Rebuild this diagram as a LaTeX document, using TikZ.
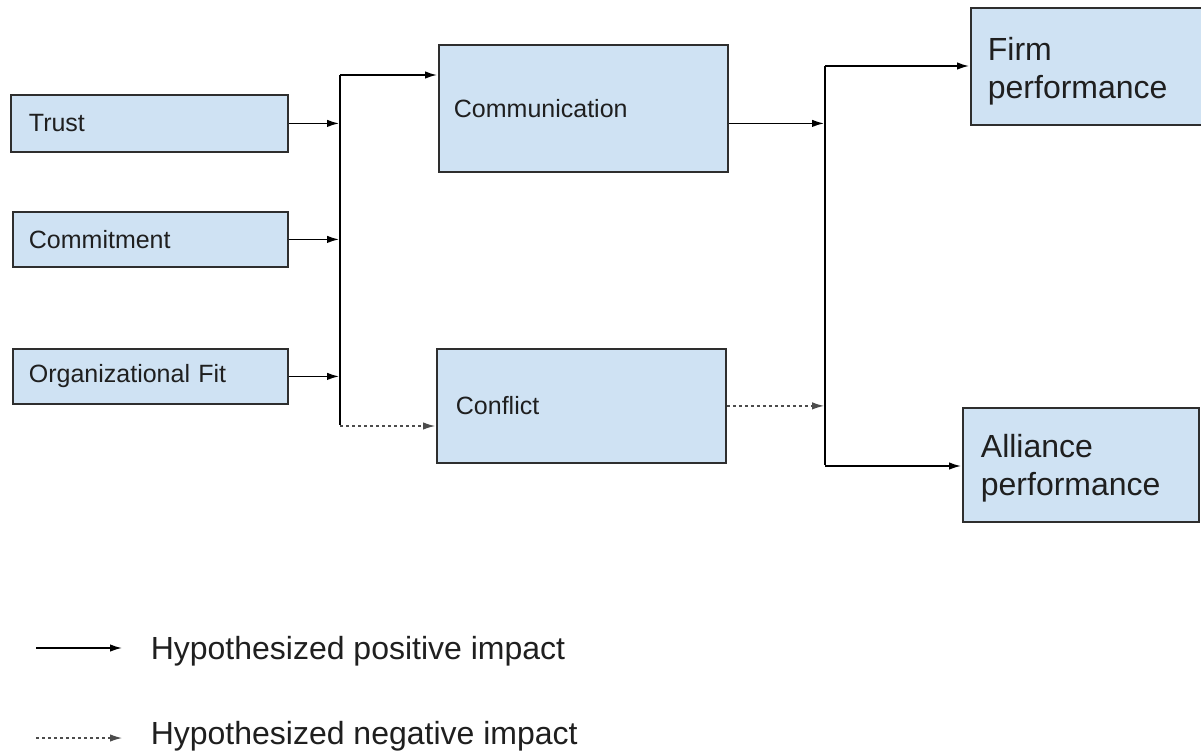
\documentclass[tikz,border=0pt]{standalone}
\usepackage{fontspec}
\setmainfont{Liberation Sans}
\usetikzlibrary{arrows.meta,positioning}
\definecolor{boxfill}{HTML}{CFE2F3}
\definecolor{boxline}{HTML}{2E2E2E}

\begin{document}
\begin{tikzpicture}[x=1pt,y=-1pt,->,>={Latex[length=12pt,width=7.5pt]},shorten >=1pt,line width=1.5pt,
        main node/.style={rectangle,draw=boxline,fill=boxfill,line width=1.8pt,
                anchor=north west,align=left,text=black!88},
        small node/.style={main node,font=\fontsize{25}{30}\selectfont},
        big node/.style={main node,font=\fontsize{32}{38}\selectfont},
        negative/.style={dash pattern=on 3pt off 3pt,draw=black!70,line width=1.2pt},
        legend/.style={anchor=west,inner ysep=0pt,inner xsep=27pt,
                font=\fontsize{32}{38}\selectfont,text=black!88}]

\useasboundingbox (0,0) rectangle (1201,753);

% drivers
\node (Trust) [small node,inner xsep=18pt,text width=241pt,minimum height=57pt] at (10,94) {Trust};
\node (Commitment) [small node,inner xsep=16pt,text width=243pt,minimum height=55pt] at (12,211) {Commitment};
\node (OrgFit) [small node,inner xsep=16pt,text width=243pt,minimum height=55pt] at (12,348) {Organizational Fit};

% mediators
\node (Communication) [small node,inner xsep=15pt,text width=259pt,minimum height=127pt] at (438,44) {Communication};
\node (Conflict) [small node,inner xsep=19pt,text width=251pt,minimum height=114pt] at (436,348) {Conflict};

% outcomes
\node (Firm) [big node,inner xsep=17pt,text width=201pt,minimum height=117pt,text depth=35pt] at (970,7) {Firm\\performance};
\node (Alliance) [big node,inner xsep=18pt,text width=200pt,minimum height=114pt,text depth=39pt] at (962,407) {Alliance\\performance};

% first bus
\coordinate (BusA-top) at (340,75);
\coordinate (BusA-bottom) at (340,426);
\draw[-] (BusA-top) -- (BusA-bottom);
\foreach \src in {Trust, Commitment, OrgFit}
    \draw (\src.east) -- (\src.east -| BusA-top);
\draw (BusA-top) -- (BusA-top -| Communication.west);
\draw[negative] (BusA-bottom) -- (BusA-bottom -| Conflict.west);

% second bus
\coordinate (BusB-top) at (825,66);
\coordinate (BusB-bottom) at (825,466);
\draw[-] (BusB-top) -- (BusB-bottom);
\draw (Communication.east |- Trust.east) -- (BusB-top |- Trust.east);
\draw[negative] (Conflict.east) -- (Conflict.east -| BusB-top);
\draw (BusB-top) -- (BusB-top -| Firm.west);
\draw (BusB-bottom) -- (BusB-bottom -| Alliance.west);

% legend
\coordinate (KeyPos) at (36,648);
\coordinate (KeyNeg) at (36,738);
\node (KeyPosText) [legend] at (123,651) {Hypothesized positive impact};
\node (KeyNegText) [legend] at (123,736) {Hypothesized negative impact};
\draw (KeyPos) -- (KeyPos -| KeyPosText.west);
\draw[negative] (KeyNeg) -- (KeyNeg -| KeyNegText.west);

\end{tikzpicture}
\end{document}
